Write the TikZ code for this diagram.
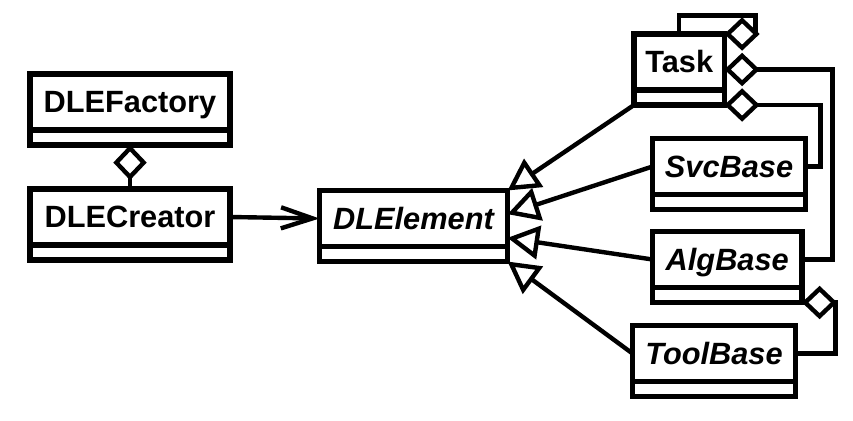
\documentclass[tikz,border=0pt]{standalone}
\usepackage{fontspec}
\setmainfont{Liberation Sans}
\usetikzlibrary{arrows.meta,calc}

\begin{document}
\begin{tikzpicture}[
  klasse/.style={draw,rectangle,line width=2.9pt,inner sep=0pt,outer sep=0pt,minimum height=1.12cm,font=\fontsize{17.5}{21}\selectfont\bfseries,text height=12.5pt,text depth=0pt},
  abstract/.style={font=\fontsize{17.5}{21}\selectfont\bfseries\itshape},
  vak/.style={draw,rectangle,line width=2.9pt,inner sep=0pt,outer sep=0pt,minimum height=0.3cm,anchor=north},
  erft/.style={line width=2.5pt,-{Triangle[open,length=18pt,width=19pt]}},
  bevat/.style={line width=2.5pt,-{Diamond[open,length=20pt,width=19pt]}},
  kent/.style={line width=2.5pt,-{Straight Barb[length=18pt,width=12pt]}}]
\useasboundingbox (0,0) rectangle (17.06,-8.4);
\node[klasse,minimum width=4cm] (FAC) at (2.6,-2.04) {DLEFactory};
\node[vak,minimum width=4cm] (FACV) at (FAC.south) {};
\node[klasse,minimum width=4cm] (CRE) at (2.6,-4.34) {DLECreator};
\node[vak,minimum width=4cm] (CREV) at (CRE.south) {};
\node[klasse,abstract,minimum width=3.76cm] (ELM) at (8.27,-4.37) {DLElement};
\node[vak,minimum width=3.76cm] (ELMV) at (ELM.south) {};
\node[klasse,minimum width=1.81cm] (TSK) at (13.585,-1.24) {Task};
\node[vak,minimum width=1.81cm] (TSKV) at (TSK.south) {};
\node[klasse,abstract,minimum width=3.06cm] (SVC) at (14.58,-3.33) {SvcBase};
\node[vak,minimum width=3.06cm] (SVCV) at (SVC.south) {};
\node[klasse,abstract,minimum width=2.99cm] (ALG) at (14.545,-5.19) {AlgBase};
\node[vak,minimum width=2.99cm] (ALGV) at (ALG.south) {};
\node[klasse,abstract,minimum width=3.26cm] (TLB) at (14.28,-7.07) {ToolBase};
\node[vak,minimum width=3.26cm] (TLBV) at (TLB.south) {};
\coordinate (ELM1) at ($(ELM.north east)!1/3!(ELMV.south east)$);
\coordinate (ELM2) at ($(ELM.north east)!2/3!(ELMV.south east)$);
\coordinate (TSKM) at ($(TSK.north east)!0.5!(TSKV.south east)$);
\draw[bevat] (CRE.north) -- (FACV.south);
\draw[kent] (CRE.east) -- (ELM.west);
\draw[erft] (TSKV.south west) -- (ELM.north east);
\draw[erft] (SVC.west) -- (ELM1);
\draw[erft] (ALG.west) -- (ELM2);
\draw[erft] (TLB.west) -- (ELMV.south east);
\draw[bevat] (TSK.north) -- ++(0,0.37) -| ([xshift=0.62cm]TSK.north east) -- (TSK.north east);
\draw[bevat] (ALG.east) -- ++(0.61,0) |- (TSKM);
\draw[bevat] (SVC.east) -- ++(0.3,0) |- (TSKV.south east);
\draw[bevat] (TLB.east) -- ++(0.8,0) |- (ALGV.south east);
\end{tikzpicture}
\end{document}
